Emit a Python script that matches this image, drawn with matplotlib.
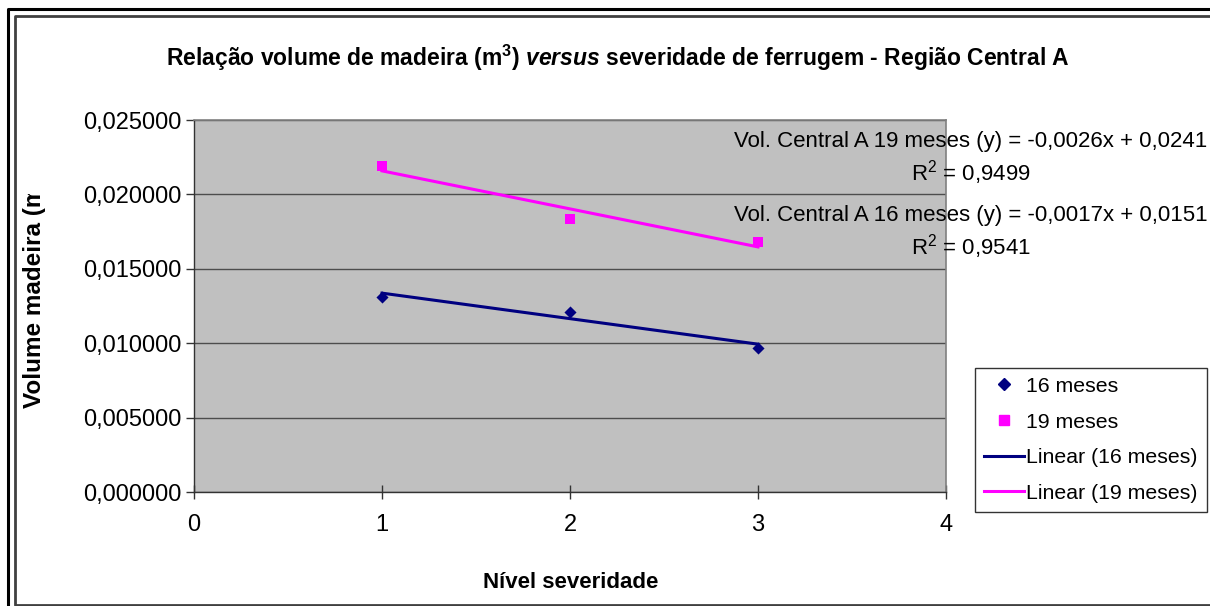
import numpy as np
import matplotlib
matplotlib.use("Agg")
import matplotlib.pyplot as plt
from matplotlib.lines import Line2D
from matplotlib.ticker import FuncFormatter
from matplotlib.transforms import Bbox, TransformedBbox

plt.rcParams['font.family'] = ['Liberation Sans', 'DejaVu Sans']
plt.rcParams['mathtext.fontset'] = 'custom'
plt.rcParams['mathtext.rm'] = 'Liberation Sans'
plt.rcParams['mathtext.it'] = 'Liberation Sans:italic:bold'
plt.rcParams['mathtext.bf'] = 'Liberation Sans:bold'

# dados
nivel = [1, 2, 3]
vol_16 = [0.01313, 0.01212, 0.00970]
vol_19 = [0.02193, 0.01833, 0.01682]
eq_19 = "Vol. Central A 19 meses (y) = -0,0026x + 0,0241"
r2_19 = "0,9499"
eq_16 = "Vol. Central A 16 meses (y) = -0,0017x + 0,0151"
r2_16 = "0,9541"

W, H = 1210, 606
fig = plt.figure(figsize=(W / 100, H / 100), dpi=100)
fig.patch.set_facecolor("white")

def fx(px):
    return px / W

def fy(py):
    return 1 - py / H

ax = fig.add_axes([fx(194), fy(492), fx(946) - fx(194), fy(120) - fy(492)])
ax.set_facecolor("#C0C0C0")

ax.scatter(nivel, vol_16, marker="D", s=38, color="#000080", zorder=3, linewidths=0)
ax.scatter(nivel, vol_19, marker="s", s=45, color="#FF00FF", zorder=3, linewidths=0)

# linhas de tendência (regressão linear)
xs = np.array(nivel, dtype=float)
p16 = np.polyfit(xs, vol_16, 1)
p19 = np.polyfit(xs, vol_19, 1)
ax.plot(xs, np.polyval(p16, xs), color="#000080", lw=2.2, zorder=2)
ax.plot(xs, np.polyval(p19, xs), color="#FF00FF", lw=2.2, zorder=2)

ax.set_xlim(0, 4)
ax.set_ylim(0, 0.025)
ax.set_xticks([0, 1, 2, 3, 4])
ax.set_yticks(np.arange(0, 0.0251, 0.005))
ax.yaxis.set_major_formatter(FuncFormatter(lambda v, p: f"{v:.6f}".replace(".", ",")))
ax.grid(axis="y", color="#4d4d4d", lw=1)
ax.set_axisbelow(True)
ax.tick_params(axis="y", direction="out", length=6, width=1, labelsize=17, pad=3, color="#333333")
ax.tick_params(axis="x", direction="inout", length=10, width=1, labelsize=17, pad=11, color="#333333")
for s in ["top", "right"]:
    ax.spines[s].set_color("#808080")
    ax.spines[s].set_linewidth(1.2)
for s in ["left", "bottom"]:
    ax.spines[s].set_color("#333333")
    ax.spines[s].set_linewidth(1)

fig.text(fx(618), fy(58),
         r"Relação volume de madeira (m$^\mathbf{3}$) $\mathit{versus}$ severidade de ferrugem - Região Central A",
         ha="center", va="center", fontsize=16.5, fontweight="bold")

fig.text(fx(571), fy(583), "Nível severidade", ha="center", va="center",
         fontsize=16, fontweight="bold")

yl = fig.text(fx(35), fy(408), "Volume madeira (m³)", rotation=90, ha="center", va="bottom",
              fontsize=17.5, fontweight="bold")
yl.set_clip_box(TransformedBbox(Bbox([[0, fy(600)], [1, fy(194)]]), fig.transFigure))
yl.set_clip_on(True)

# equações
for txt, r2, y1, y2 in [(eq_19, r2_19, 141, 173), (eq_16, r2_16, 215, 247)]:
    fig.text(fx(971), fy(y1), txt, ha="center", va="center", fontsize=16)
    fig.text(fx(971), fy(y2), r"R$^2$ = " + r2, ha="center", va="center", fontsize=16)

handles = [
    Line2D([], [], ls="none", marker="D", color="#000080", markersize=6),
    Line2D([], [], ls="none", marker="s", color="#FF00FF", markersize=6.5),
    Line2D([], [], color="#000080", lw=2.2),
    Line2D([], [], color="#FF00FF", lw=2.2),
]
labels = ["16 meses", "19 meses", "Linear (16 meses)", "Linear (19 meses)"]
leg = fig.legend(handles, labels, loc="upper left", bbox_to_anchor=(fx(975), fy(368)),
                 borderaxespad=0, fontsize=15.3, frameon=True, fancybox=False,
                 edgecolor="black", handlelength=1.9, handletextpad=0.1,
                 labelspacing=0.78, borderpad=0.42)
leg.get_frame().set_linewidth(1)

# molduras do gráfico
fig.add_artist(Line2D([fx(8), fx(8), 1.01], [-0.01, fy(9), fy(9)], color="black", lw=2.2,
                      transform=fig.transFigure))
fig.add_artist(Line2D([1.01, fx(15), fx(15), 1.01], [fy(16), fy(16), fy(605), fy(605)],
                      color="#404040", lw=2, transform=fig.transFigure))

fig.savefig("out.png", dpi=100)
